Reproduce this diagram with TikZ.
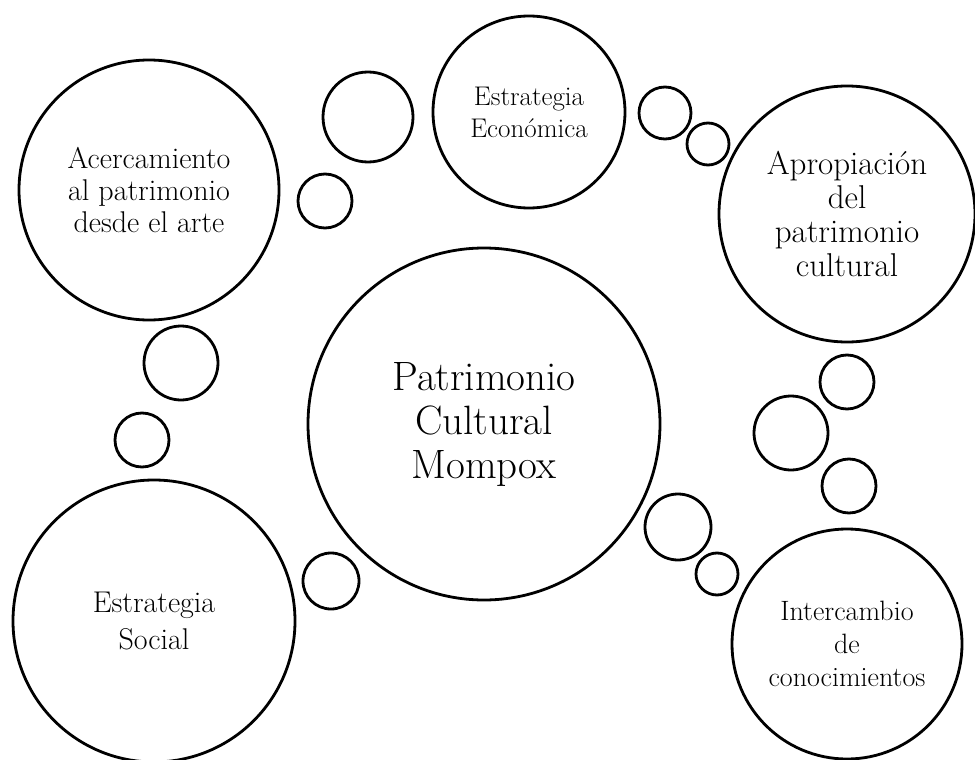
\documentclass[tikz,border=0pt]{standalone}
\begin{document}
\begin{tikzpicture}[x=1pt, y=-1pt, line width=2.8pt,
  main/.style = {draw,circle,inner sep=0pt,align=center},
  bub/.style = {draw,circle,inner sep=0pt}]
  \useasboundingbox (0,0) rectangle (975,760);
  \node[main, minimum size=352pt, font=\fontsize{41}{44}\selectfont] (1) at (484,424) {Patrimonio\\Cultural\\Mompox};
  \node[main, minimum size=260pt, font=\fontsize{30}{32}\selectfont] (2) at (149,190) {Acercamiento\\al patrimonio\\desde el arte};
  \node[main, minimum size=192pt, font=\fontsize{27}{32}\selectfont] (3) at (529,112) {Estrategia\\Económica};
  \node[main, minimum size=256pt, font=\fontsize{33}{34}\selectfont] (4) at (847,214) {Apropiación\\del\\patrimonio\\cultural};
  \node[main, minimum size=282pt, font=\fontsize{30}{37}\selectfont] (5) at (154,621) {Estrategia\\Social};
  \node[main, minimum size=230pt, font=\fontsize{28}{33}\selectfont] (6) at (847,644) {Intercambio\\de\\conocimientos};
  \node[bub, minimum size=90pt] (7) at (368,117) {};
  \node[bub, minimum size=54pt] (8) at (325,201) {};
  \node[bub, minimum size=74pt] (9) at (181,363) {};
  \node[bub, minimum size=54pt] (10) at (142,440) {};
  \node[bub, minimum size=52pt] (11) at (665,113) {};
  \node[bub, minimum size=42pt] (12) at (708,144) {};
  \node[bub, minimum size=54pt] (13) at (847,382) {};
  \node[bub, minimum size=74pt] (14) at (791,433) {};
  \node[bub, minimum size=54pt] (15) at (849,486) {};
  \node[bub, minimum size=66pt] (16) at (678,527) {};
  \node[bub, minimum size=42pt] (17) at (717,574) {};
  \node[bub, minimum size=56pt] (18) at (331,581) {};
\end{tikzpicture}
\end{document}
